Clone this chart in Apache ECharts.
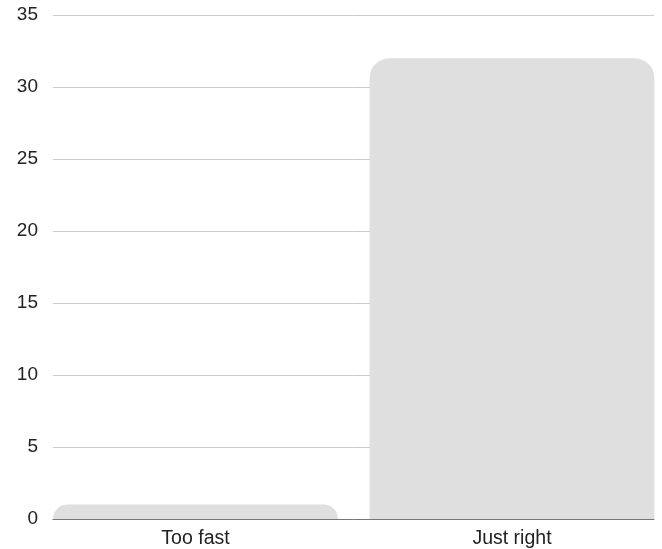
<!DOCTYPE html>
<html>
<head>
<meta charset="utf-8">
<style>
  html, body { margin: 0; padding: 0; background: #fff; }
  #chart { width: 662px; height: 549px; }
</style>
<script src="https://cdn.jsdelivr.net/npm/echarts@6/dist/echarts.min.js"></script>
</head>
<body>
<div id="chart"></div>
<script>
// Survey answers: how the pace felt
const categories = ['Too fast', 'Just right'];
const responses = [1, 32];
const yTicks = { min: 0, max: 35, step: 5 };

const chart = echarts.init(document.getElementById('chart'));
const font = 'Liberation Sans, Arial, sans-serif';

chart.setOption({
  animation: false,
  backgroundColor: '#ffffff',
  grid: [
    // value scale, gridlines and baseline
    { left: 53, width: 601, top: 15, bottom: 30, outerBoundsMode: 'none' },
    // category band holding the bars (slightly wider than the plot area)
    { left: 37.25, width: 633, top: 15, bottom: 30, outerBoundsMode: 'none' }
  ],
  xAxis: [
    {
      gridIndex: 0, type: 'value', min: 0, max: 1, z: 0,
      axisLine: { show: true, onZero: false, lineStyle: { color: '#777', width: 1 } },
      axisTick: { show: false }, axisLabel: { show: false }, splitLine: { show: false }
    },
    {
      gridIndex: 1, type: 'category', data: categories,
      axisLine: { show: false }, axisTick: { show: false },
      axisLabel: { color: '#222', fontSize: 19.5, fontFamily: font, margin: 10 }
    }
  ],
  yAxis: [
    {
      gridIndex: 0, type: 'value', min: yTicks.min, max: yTicks.max, interval: yTicks.step,
      axisLine: { show: false }, axisTick: { show: false },
      axisLabel: { color: '#222', fontSize: 19, fontFamily: font, margin: 15 },
      splitLine: { lineStyle: { color: '#cccccc', width: 1 } }
    },
    {
      gridIndex: 1, type: 'value', min: yTicks.min, max: yTicks.max, interval: yTicks.step,
      axisLine: { show: false }, axisTick: { show: false },
      axisLabel: { show: false }, splitLine: { show: false }
    }
  ],
  series: [{
    type: 'bar',
    xAxisIndex: 1, yAxisIndex: 1,
    data: responses,
    barCategoryGap: '10%',
    z: 2,
    itemStyle: { color: '#dfdfdf', borderRadius: [20, 20, 0, 0] }
  }]
});
</script>
</body>
</html>
